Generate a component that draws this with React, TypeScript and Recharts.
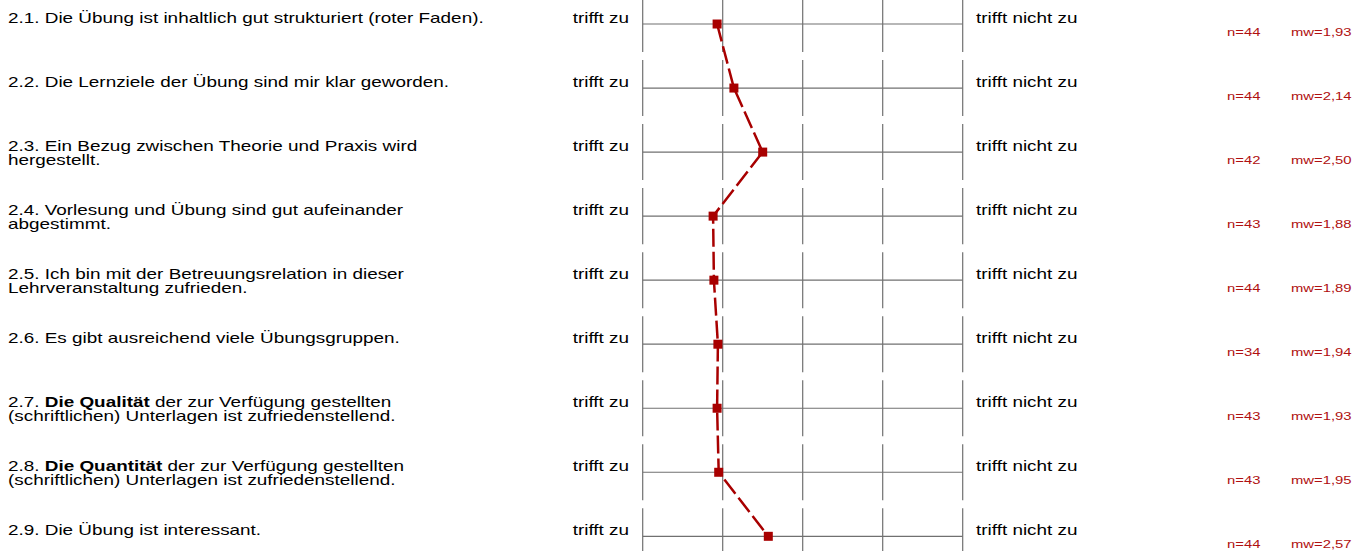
import React from 'react';
import { LineChart, Line, XAxis, YAxis, ReferenceLine } from 'recharts';

// one row per question
const rows = [1, 2, 3, 4, 5, 6, 7, 8, 9];
const meanValues = [1.93, 2.14, 2.5, 1.88, 1.89, 1.94, 1.93, 1.95, 2.57];
const counts = [44, 44, 42, 43, 44, 34, 43, 43, 44];
const scaleSteps = [1, 2, 3, 4, 5];

// label lines; segments marked with ** are bold
const labelLines: string[][] = [
  ['2.1. Die Übung ist inhaltlich gut strukturiert (roter Faden).'],
  ['2.2. Die Lernziele der Übung sind mir klar geworden.'],
  ['2.3. Ein Bezug zwischen Theorie und Praxis wird', 'hergestellt.'],
  ['2.4. Vorlesung und Übung sind gut aufeinander', 'abgestimmt.'],
  ['2.5. Ich bin mit der Betreuungsrelation in dieser', 'Lehrveranstaltung zufrieden.'],
  ['2.6. Es gibt ausreichend viele Übungsgruppen.'],
  ['2.7. **Die Qualität** der zur Verfügung gestellten', '(schriftlichen) Unterlagen ist zufriedenstellend.'],
  ['2.8. **Die Quantität** der zur Verfügung gestellten', '(schriftlichen) Unterlagen ist zufriedenstellend.'],
  ['2.9. Die Übung ist interessant.'],
];
const leftPole = 'trifft zu';
const rightPole = 'trifft nicht zu';

const data = rows.map((row, i) => ({ row, mw: meanValues[i], n: counts[i] }));

const FONT = '"Liberation Sans", Arial, sans-serif';
const STRETCH = 1.35;
const GRID = '#707070';
const RED = '#a80000';
const HALF = 0.4375;

const fmt = (v: number) => v.toFixed(2).replace('.', ',');

const renderLine = (line: string) =>
  line.split('**').map((part, k) => (
    <tspan key={k} fontWeight={k % 2 === 1 ? 'bold' : 'normal'}>
      {part}
    </tspan>
  ));

const Stretched = ({ x, y, children, anchor = 'start', size = 14, fill = '#000' }: any) => (
  <g transform={`translate(${x},${y}) scale(${STRETCH},1)`}>
    <text x={0} y={0} textAnchor={anchor} fontSize={size} fontFamily={FONT} fill={fill}>
      {children}
    </text>
  </g>
);

const RowTick = (props: any) => {
  const { y, payload } = props;
  const i = Math.round(payload.value) - 1;
  if (i < 0 || i >= data.length) return null;
  const lines = labelLines[i];
  return (
    <g>
      {lines.map((ln, k) => (
        <Stretched key={k} x={8} y={y - 1 + k * 13.5}>
          {renderLine(ln)}
        </Stretched>
      ))}
      <Stretched x={629} y={y - 1} anchor="end">
        {leftPole}
      </Stretched>
      <Stretched x={976} y={y - 1}>
        {rightPole}
      </Stretched>
      <Stretched x={1227} y={y + 11.5} size={11} fill="#b01010">
        {`n=${data[i].n}`}
      </Stretched>
      <Stretched x={1291} y={y + 11.5} size={11} fill="#b01010">
        {`mw=${fmt(data[i].mw)}`}
      </Stretched>
    </g>
  );
};

const SquareDot = (props: any) => {
  const { cx, cy, index } = props;
  return <rect key={`d-${index}`} x={cx - 4.5} y={cy - 4.5} width={9} height={9} fill={RED} />;
};

export default function App() {
  return (
    <div style={{ position: 'absolute', left: 0, top: 0, width: 1365, height: 551, background: '#fff' }}>
      <LineChart
        width={1365}
        height={551}
        data={data}
        layout="vertical"
        margin={{ top: 0, right: 402.3, bottom: 0.6, left: 641.7 }}
      >
        <XAxis type="number" dataKey="mw" domain={[1, 5]} hide allowDataOverflow />
        <YAxis
          type="number"
          dataKey="row"
          domain={[0.625, 9.22]}
          allowDataOverflow
          ticks={rows}
          interval={0}
          width={1}
          axisLine={false}
          tickLine={false}
          tick={<RowTick />}
        />
        {rows.map((r) => (
          <ReferenceLine key={`h-${r}`} y={r} stroke={GRID} strokeWidth={1.2} ifOverflow="visible" />
        ))}
        {rows.map((r) =>
          scaleSteps.map((s) => (
            <ReferenceLine
              key={`v-${r}-${s}`}
              segment={[
                { x: s, y: r - HALF },
                { x: s, y: r + HALF },
              ]}
              stroke={GRID}
              strokeWidth={1.2}
              ifOverflow="visible"
            />
          ))
        )}
        <Line
          dataKey="mw"
          stroke={RED}
          strokeWidth={2.5}
          strokeDasharray="18 5"
          dot={<SquareDot />}
          activeDot={false}
          isAnimationActive={false}
        />
      </LineChart>
    </div>
  );
}
